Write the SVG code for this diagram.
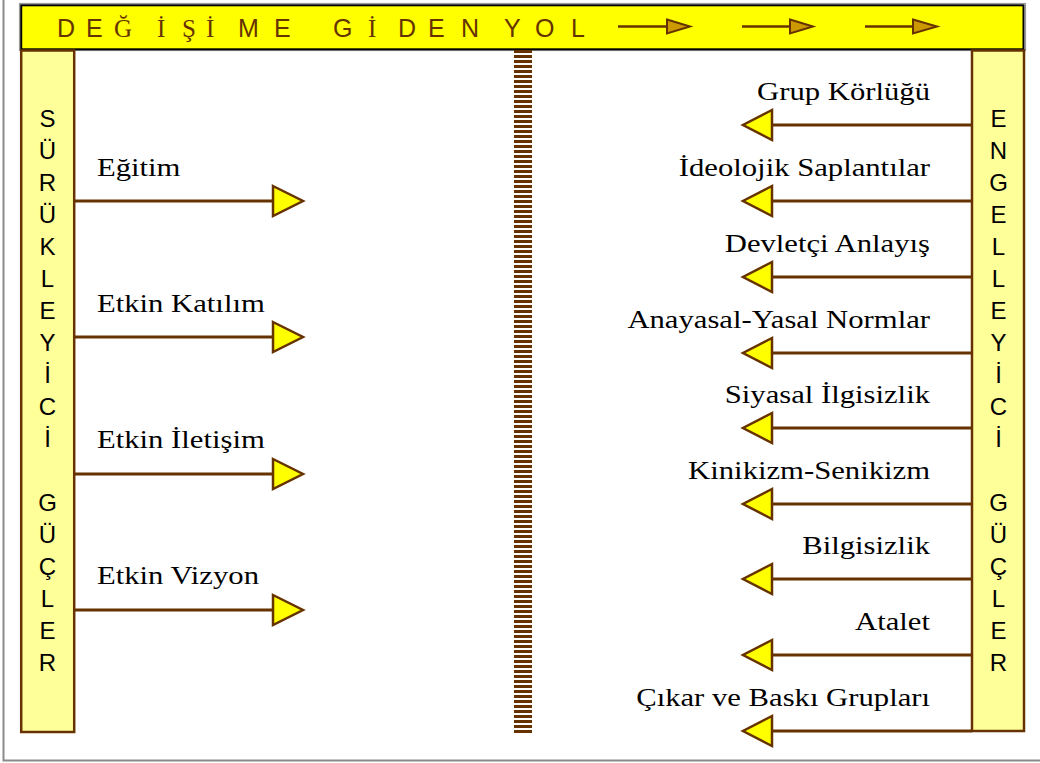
<svg xmlns="http://www.w3.org/2000/svg" width="1040" height="763" viewBox="0 0 1040 763">
<style>
.frame{fill:none;stroke:#8a8a8a;stroke-width:2}
.title{font-family:"Liberation Sans",Arial,sans-serif;font-size:25px;fill:#663300}
.ser{font-family:"Liberation Serif","Times New Roman",serif}
.bar{fill:#FFFF99;stroke:#663300;stroke-width:2.5}
.vl{font-family:"Liberation Sans",Arial,sans-serif;font-size:24px;fill:#000;text-anchor:middle}
.lbl{font-family:"Liberation Serif","Times New Roman",serif;font-size:26px;fill:#000}
.lr{text-anchor:end}
.ln{stroke:#663300;stroke-width:3;fill:none}
.tri{fill:#FFFF00;stroke:#663300;stroke-width:2.5;stroke-linejoin:miter}
.tta{stroke:#663300;stroke-width:2.5;fill:none}
.ttri{fill:#CC9900;stroke:#663300;stroke-width:2}
</style>
<rect width="1040" height="763" fill="#fff"/>
<path class="frame" d="M3.5,-2 V760.5 H1045"/>
<g id="title">
<rect x="19.5" y="3.5" width="1006" height="47" fill="none" stroke="#9a9a9a" stroke-width="1.2"/>
<rect x="21.2" y="5.3" width="1002.3" height="44" fill="#FFFF00" stroke="#000" stroke-width="2"/>
<text class="title" y="37"><tspan x="57">D</tspan> <tspan x="86">E</tspan> <tspan class="ser" x="114">Ğ</tspan> <tspan class="ser" x="157">İ</tspan> <tspan class="ser" x="182">Ş</tspan> <tspan class="ser" x="206">İ</tspan> <tspan x="238">M</tspan> <tspan x="274">E</tspan> <tspan x="333">G</tspan> <tspan class="ser" x="368">İ</tspan> <tspan x="398">D</tspan> <tspan x="428">E</tspan> <tspan x="461">N</tspan> <tspan x="504">Y</tspan> <tspan x="535">O</tspan> <tspan x="571">L</tspan></text>
<g id="title-arrows">
<line class="tta" x1="618" y1="26.5" x2="667" y2="26.5"/>
<polygon class="ttri" points="667,19.5 690,26.5 667,33.5"/>
<line class="tta" x1="742" y1="26.5" x2="790" y2="26.5"/>
<polygon class="ttri" points="790,19.5 813,26.5 790,33.5"/>
<line class="tta" x1="865" y1="26.5" x2="913" y2="26.5"/>
<polygon class="ttri" points="913,19.5 937,26.5 913,33.5"/>
</g>
</g>
<g id="divider">
<line x1="523" y1="50" x2="523" y2="734" stroke="#663300" stroke-width="18" stroke-dasharray="3 2"/>
</g>
<g id="left-bar">
<rect class="bar" x="21.2" y="50.5" width="53" height="681.5"/>
<text class="vl" x="47.5">
<tspan x="47.5" y="127">S</tspan><tspan x="47.5" y="159">Ü</tspan><tspan x="47.5" y="191">R</tspan><tspan x="47.5" y="223">Ü</tspan><tspan x="47.5" y="255">K</tspan><tspan x="47.5" y="287">L</tspan><tspan x="47.5" y="319">E</tspan><tspan x="47.5" y="351">Y</tspan><tspan x="47.5" y="383">İ</tspan><tspan x="47.5" y="415">C</tspan><tspan x="47.5" y="447">İ</tspan><tspan x="47.5" y="511">G</tspan><tspan x="47.5" y="543">Ü</tspan><tspan x="47.5" y="575">Ç</tspan><tspan x="47.5" y="607">L</tspan><tspan x="47.5" y="639">E</tspan><tspan x="47.5" y="671">R</tspan>
</text>
</g>
<g id="right-bar">
<rect class="bar" x="972" y="50.5" width="52" height="680.5"/>
<text class="vl" x="998.5">
<tspan x="998.5" y="127">E</tspan><tspan x="998.5" y="159">N</tspan><tspan x="998.5" y="191">G</tspan><tspan x="998.5" y="223">E</tspan><tspan x="998.5" y="255">L</tspan><tspan x="998.5" y="287">L</tspan><tspan x="998.5" y="319">E</tspan><tspan x="998.5" y="351">Y</tspan><tspan x="998.5" y="383">İ</tspan><tspan x="998.5" y="415">C</tspan><tspan x="998.5" y="447">İ</tspan><tspan x="998.5" y="511">G</tspan><tspan x="998.5" y="543">Ü</tspan><tspan x="998.5" y="575">Ç</tspan><tspan x="998.5" y="607">L</tspan><tspan x="998.5" y="639">E</tspan><tspan x="998.5" y="671">R</tspan>
</text>
</g>
<g id="connectors">
<line class="ln" x1="74" y1="201" x2="273" y2="201"/><polygon class="tri" points="273,186 303,201 273,216"/>
<line class="ln" x1="74" y1="337" x2="273" y2="337"/><polygon class="tri" points="273,322 303,337 273,352"/>
<line class="ln" x1="74" y1="474" x2="273" y2="474"/><polygon class="tri" points="273,459 303,474 273,489"/>
<line class="ln" x1="74" y1="610" x2="273" y2="610"/><polygon class="tri" points="273,595 303,610 273,625"/>
<line class="ln" x1="972" y1="125" x2="772" y2="125"/><polygon class="tri" points="772,110 743,125 772,140"/>
<line class="ln" x1="972" y1="201" x2="772" y2="201"/><polygon class="tri" points="772,186 743,201 772,216"/>
<line class="ln" x1="972" y1="277" x2="772" y2="277"/><polygon class="tri" points="772,262 743,277 772,292"/>
<line class="ln" x1="972" y1="353" x2="772" y2="353"/><polygon class="tri" points="772,338 743,353 772,368"/>
<line class="ln" x1="972" y1="428" x2="772" y2="428"/><polygon class="tri" points="772,413 743,428 772,443"/>
<line class="ln" x1="972" y1="504" x2="772" y2="504"/><polygon class="tri" points="772,489 743,504 772,519"/>
<line class="ln" x1="972" y1="579" x2="772" y2="579"/><polygon class="tri" points="772,564 743,579 772,594"/>
<line class="ln" x1="972" y1="655" x2="772" y2="655"/><polygon class="tri" points="772,640 743,655 772,670"/>
<line class="ln" x1="972" y1="731" x2="772" y2="731"/><polygon class="tri" points="772,716 743,731 772,746"/>
</g>
<g id="egitim"><text class="lbl" transform="translate(97,176) scale(1.18,1)">Eğitim</text></g>
<g id="etkin-katilim"><text class="lbl" transform="translate(97,312) scale(1.18,1)">Etkin Katılım</text></g>
<g id="etkin-iletisim"><text class="lbl" transform="translate(97,448) scale(1.18,1)">Etkin İletişim</text></g>
<g id="etkin-vizyon"><text class="lbl" transform="translate(97,584) scale(1.18,1)">Etkin Vizyon</text></g>
<g id="grup-korlugu"><text class="lbl lr" transform="translate(930,99.5) scale(1.18,1)">Grup Körlüğü</text></g>
<g id="ideolojik"><text class="lbl lr" transform="translate(930,175.5) scale(1.18,1)">İdeolojik Saplantılar</text></g>
<g id="devletci"><text class="lbl lr" transform="translate(930,251.5) scale(1.18,1)">Devletçi Anlayış</text></g>
<g id="anayasal"><text class="lbl lr" transform="translate(930,327.5) scale(1.18,1)">Anayasal-Yasal Normlar</text></g>
<g id="siyasal"><text class="lbl lr" transform="translate(930,402.5) scale(1.18,1)">Siyasal İlgisizlik</text></g>
<g id="kinikizm"><text class="lbl lr" transform="translate(930,478.5) scale(1.18,1)">Kinikizm-Senikizm</text></g>
<g id="bilgisizlik"><text class="lbl lr" transform="translate(930,553.5) scale(1.18,1)">Bilgisizlik</text></g>
<g id="atalet"><text class="lbl lr" transform="translate(930,629.5) scale(1.18,1)">Atalet</text></g>
<g id="cikar"><text class="lbl lr" transform="translate(930,705.5) scale(1.18,1)">Çıkar ve Baskı Grupları</text></g>
</svg>
